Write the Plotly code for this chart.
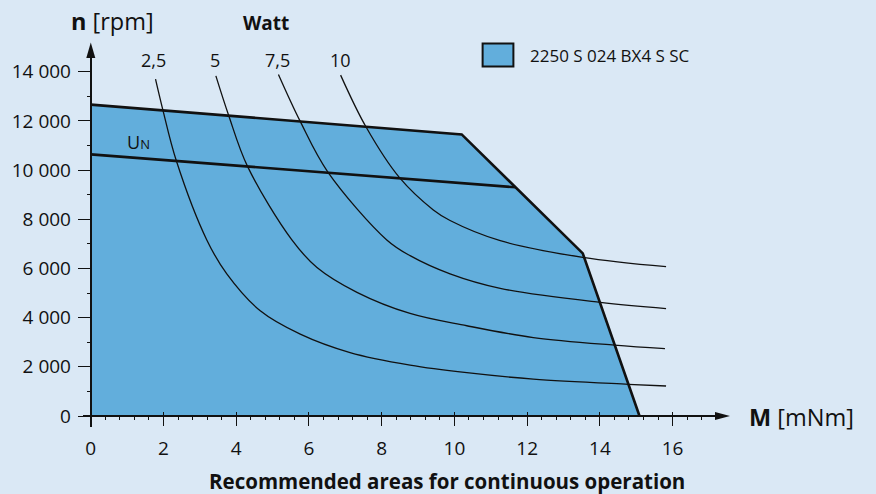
import plotly.graph_objects as go

# ---------------- data ----------------
env_M = [0, 10.2, 13.53, 15.09]
env_n = [12660, 11450, 6610, 0]

un_M = [0, 11.69]
un_n = [10640, 9300]

p25_M = [1.78, 1.98, 2.35, 3.19, 3.74, 4.66, 5.76, 7.13, 8.78, 10.34, 12.17, 14.78, 15.82]
p25_n = [13700, 12460, 10390, 7160, 5780, 4280, 3330, 2580, 2070, 1760, 1500, 1290, 1220]

p5_M = [3.44, 3.79, 4.31, 5.53, 6.22, 7.32, 8.78, 10.34, 12.17, 14.40, 15.79]
p5_n = [13830, 12230, 10150, 7160, 6040, 5030, 4170, 3670, 3190, 2880, 2740]

p75_M = [5.16, 5.76, 6.52, 8.14, 8.78, 9.88, 11.26, 14.01, 15.82]
p75_n = [13890, 11980, 9920, 7160, 6520, 5780, 5190, 4620, 4370]

p10_M = [6.87, 7.57, 8.49, 9.42, 9.88, 11.26, 13.53, 15.82]
p10_n = [13860, 11750, 9690, 8380, 7950, 7130, 6450, 6070]

power_labels = ["2,5", "5", "7,5", "10"]
y_tickvals = [0, 2000, 4000, 6000, 8000, 10000, 12000, 14000]
y_ticktext = ["0", "2 000", "4 000", "6 000", "8 000", "10 000", "12 000", "14 000"]
x_tickvals = [0, 2, 4, 6, 8, 10, 12, 14, 16]
legend_name = "2250 S 024 BX4 S SC"

# ---------------- layout geometry ----------------
W, H = 876, 494
BG = "#dae8f5"
FILL = "#62aedc"
INK = "#111111"
FONT = "Open Sans"

PX_X0, PX_PER_M = 90.5, 36.38      # pixel of M=0, pixels per mNm
PX_Y0, PX_PER_N = 416.0, 0.024593  # pixel of n=0, pixels per rpm
plot_l, plot_r, plot_t, plot_b = 82.7, 716.0, 58.0, 427.0

xr = [(plot_l - PX_X0) / PX_PER_M, (plot_r - PX_X0) / PX_PER_M]
yr = [(PX_Y0 - plot_b) / PX_PER_N, (PX_Y0 - plot_t) / PX_PER_N]
pw, ph = plot_r - plot_l, plot_b - plot_t


def fx(px):
    return (px - plot_l) / pw


def fy(py):
    return (plot_b - py) / ph


yaxis_pos = (0 - xr[0]) / (xr[1] - xr[0])
xaxis_pos = (0 - yr[0]) / (yr[1] - yr[0])

fig = go.Figure()

# envelope fill
fig.add_trace(go.Scatter(
    x=env_M + [0], y=env_n + [0], mode="lines", fill="toself",
    fillcolor=FILL, line=dict(width=0), hoverinfo="skip", showlegend=False))

# power curves
for cm, cn in [(p25_M, p25_n), (p5_M, p5_n), (p75_M, p75_n), (p10_M, p10_n)]:
    fig.add_trace(go.Scatter(
        x=cm, y=cn, mode="lines", line=dict(color=INK, width=1.3, shape="spline", smoothing=1.0),
        hoverinfo="skip", showlegend=False, cliponaxis=False))

# nominal voltage line
fig.add_trace(go.Scatter(x=un_M, y=un_n, mode="lines", line=dict(color=INK, width=2.6),
                         hoverinfo="skip", showlegend=False))
# envelope outline
fig.add_trace(go.Scatter(x=env_M, y=env_n, mode="lines", line=dict(color=INK, width=2.6),
                         hoverinfo="skip", showlegend=False))
# dummy trace for overlay axis
fig.add_trace(go.Scatter(x=[None], y=[None], xaxis="x2", yaxis="y", showlegend=False, hoverinfo="skip"))

fig.update_layout(
    width=W, height=H, autosize=False,
    paper_bgcolor=BG, plot_bgcolor=BG,
    margin=dict(l=plot_l, r=W - plot_r, t=plot_t, b=H - plot_b, pad=0),
    font=dict(family=FONT, color=INK, size=19),
    showlegend=False,
    xaxis=dict(range=xr, anchor="free", position=xaxis_pos, showgrid=False, zeroline=False,
               showline=True, linecolor=INK, linewidth=2,
               tickmode="array", tickvals=x_tickvals, ticks="outside", ticklen=9, tickwidth=1.4,
               tickcolor=INK, tickfont=dict(size=19, family=FONT, color=INK), ticklabelstandoff=6,
               minor=dict(dtick=0.4, tick0=0, ticks="outside", ticklen=3, tickwidth=1, tickcolor=INK)),
    xaxis2=dict(range=xr, overlaying="x", anchor="free", position=xaxis_pos, showgrid=False,
                zeroline=False, showline=False, tickmode="array", tickvals=x_tickvals,
                ticks="inside", ticklen=4, tickwidth=1.4, tickcolor=INK, showticklabels=False),
    yaxis=dict(range=yr, anchor="free", position=yaxis_pos, showgrid=False, zeroline=False,
               showline=True, linecolor=INK, linewidth=2,
               tickmode="array", tickvals=y_tickvals, ticktext=y_ticktext, ticks="outside",
               ticklen=12, tickwidth=1.4, tickcolor=INK,
               tickfont=dict(size=19, family=FONT, color=INK), ticklabelstandoff=3,
               minor=dict(dtick=1000, tick0=0, ticks="outside", ticklen=3, tickwidth=1, tickcolor=INK)),
)

# axis arrows (pixel-sized shapes)
fig.add_shape(type="path", xref="paper", yref="paper", layer="above",
              xsizemode="pixel", ysizemode="pixel", xanchor=yaxis_pos, yanchor=1.0,
              path="M -4.5 0 L 0 15.5 L 4.5 0 Z", fillcolor=INK, line=dict(width=0))
fig.add_shape(type="path", xref="paper", yref="paper", layer="above",
              xsizemode="pixel", ysizemode="pixel", xanchor=1.0, yanchor=xaxis_pos,
              path="M -1 -4 L 14 0 L -1 4 Z", fillcolor=INK, line=dict(width=0))

# legend box
fig.add_shape(type="rect", xref="paper", yref="paper", x0=fx(482.5), x1=fx(513.3),
              y0=fy(66.5), y1=fy(43.5), fillcolor=FILL, line=dict(color=INK, width=2))


def ann(text, px, py, size, bold=False, xanchor="center"):
    fig.add_annotation(text=f"<b>{text}</b>" if bold else text, x=fx(px), y=fy(py),
                       xref="paper", yref="paper", showarrow=False, xanchor=xanchor,
                       yanchor="middle", font=dict(size=size, family=FONT, color=INK))


ann(legend_name, 528, 55, 17, xanchor="left")
ann("<b>n</b> [rpm]", 112, 21, 23.5)
ann("<b>M</b> [mNm]", 747, 417, 23.5, xanchor="left")
ann("Watt", 266, 23, 19, bold=True)
ann("Recommended areas for continuous operation", 447, 480.5, 20.5, bold=True)
ann("U<span style='font-size:13px'>N</span>", 138, 142, 18)
for lab, px in zip(power_labels, [153, 215, 277, 340]):
    ann(lab, px, 60, 18)

fig.write_html("out.html", post_script="document.body.style.margin='0';",
               config={"displayModeBar": False})
